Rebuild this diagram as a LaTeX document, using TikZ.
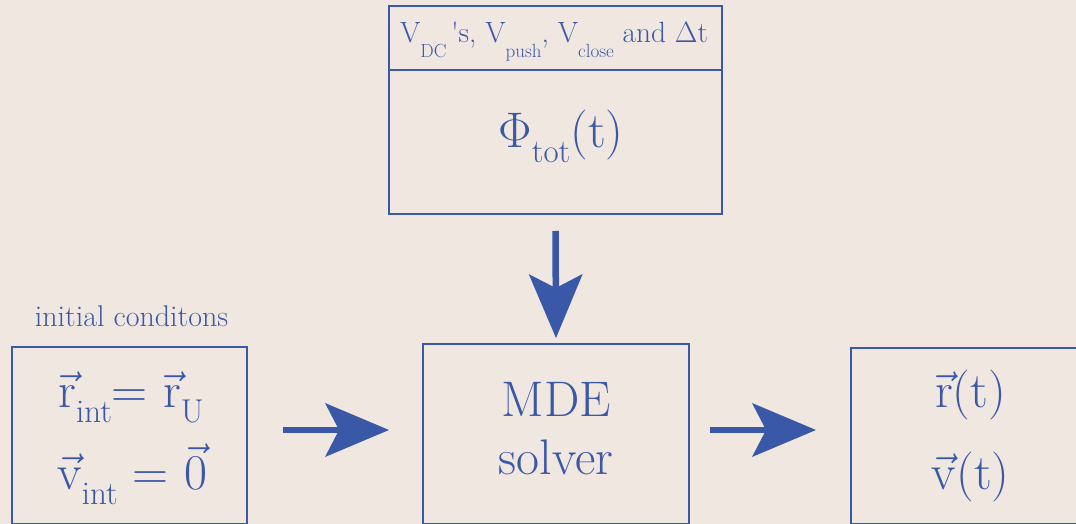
\RequirePackage{fix-cm}
\documentclass[tikz,border=0pt]{standalone}
\usetikzlibrary{arrows.meta}
\definecolor{dblue}{RGB}{58,88,168}
\definecolor{bgc}{RGB}{240,231,225}
\newcommand{\lsub}[1]{\raisebox{-15pt}[0pt][0pt]{\fontsize{33}{33}\selectfont #1}}
\newcommand{\hsub}[1]{\raisebox{-15pt}[0pt][0pt]{\fontsize{19}{19}\selectfont #1}}
\begin{document}
\begin{tikzpicture}[x=1pt,y=1pt,
  box/.style={draw=dblue,line width=1.8pt,inner sep=0pt,outer sep=0pt,rectangle},
  bigtext/.style={text=dblue,font=\fontsize{50}{60}\selectfont,anchor=base,inner sep=0pt},
  hdrtext/.style={text=dblue,font=\fontsize{29.3}{35}\selectfont,anchor=base,inner sep=0pt},
  smalltext/.style={text=dblue,font=\fontsize{30}{36}\selectfont,anchor=base,inner sep=0pt},
  bigarrow/.style={draw=dblue,line width=6.5pt,
    -{Stealth[length=64pt,width=54pt,inset=14pt,line width=0pt]}}
]
\useasboundingbox (0,0) rectangle (1076,524);
\fill[bgc] (0,0) rectangle (1076,524);

% boxes
\node[box,minimum width=333pt,minimum height=64pt] (hdr) at (555.5,486) {};
\node[box,minimum width=333pt,minimum height=144pt] (phi) at (555.5,382) {};
\node[box,minimum width=235pt,minimum height=177pt] (init) at (129.5,88.5) {};
\node[box,minimum width=266pt,minimum height=180pt] (mde) at (556,90) {};
\node[box,minimum width=239pt,minimum height=176pt] (out) at (970.5,88) {};

% texts
\node[hdrtext] (hdrt) at (554,481) {V\hsub{DC}\,\textquotesingle s, V\hsub{push}, V\hsub{close} and $\Delta$t};
\node[bigtext] (phit) at (561,376) {$\Phi$\lsub{tot}(t)};
\node[smalltext] (initlabel) at (131.5,197) {initial conditons};
\node[bigtext] (r0) at (131,116) {$\vec{\mathrm{r}}$\lsub{int}$=$\ $\vec{\mathrm{r}}$\lsub{U}};
\node[bigtext] (v0) at (132,34) {$\vec{\mathrm{v}}$\lsub{int}\ $=$\ $\vec{0}$};
\node[bigtext] (mde1) at (556.5,107) {MDE};
\node[bigtext] (mde2) at (556,49) {solver};
\node[bigtext] (rt) at (970.5,116) {$\vec{\mathrm{r}}(\mathrm{t})$};
\node[bigtext] (vt) at (970.5,34) {$\vec{\mathrm{v}}(\mathrm{t})$};

% arrows
\draw[bigarrow,shorten <=17pt,shorten >=6pt] (phi.south) -- (mde.north);
\draw[bigarrow,shorten <=36pt,shorten >=34pt] ([yshift=5.5pt]init.east) -- ([yshift=5.5pt]init.east -| mde.west);
\draw[bigarrow,shorten <=21pt,shorten >=35pt] ([yshift=4pt]mde.east) -- ([yshift=4pt]mde.east -| out.west);
\end{tikzpicture}
\end{document}
